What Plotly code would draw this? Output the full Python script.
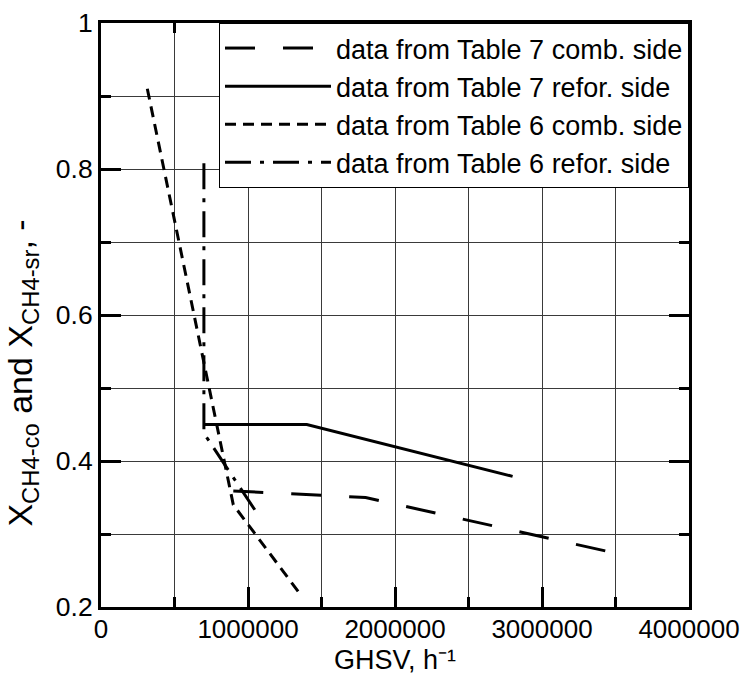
import plotly.graph_objects as go

# Data (GHSV in h^-1, conversion in -)
t7_comb_x = [900000, 1800000, 3450000]
t7_comb_y = [0.359, 0.350, 0.276]

t7_refor_x = [700000, 1400000, 2800000]
t7_refor_y = [0.450, 0.450, 0.379]

t6_comb_x = [315000, 900000, 1350000]
t6_comb_y = [0.910, 0.340, 0.219]

t6_refor_x = [700000, 700000, 1060000]
t6_refor_y = [0.808, 0.438, 0.329]

names = [
    "data from Table 7 comb. side",
    "data from Table 7 refor. side",
    "data from Table 6 comb. side",
    "data from Table 6 refor. side",
]

x_title = "GHSV, h\u207b\u00b9"
y_title = "X<sub>CH4-co</sub> and X<sub>CH4-sr</sub>, -"

FONT = "Liberation Sans, Arial, sans-serif"

fig = go.Figure()
series = [
    (t7_comb_x, t7_comb_y, "30px,28px"),
    (t7_refor_x, t7_refor_y, "solid"),
    (t6_comb_x, t6_comb_y, "11px,7px"),
    (t6_refor_x, t6_refor_y, "26px,9px,4px,9px"),
]
for (xs, ys, dash), nm in zip(series, names):
    fig.add_trace(go.Scatter(
        x=xs, y=ys, mode="lines", name=nm,
        line=dict(color="black", width=3, dash=dash),
    ))

axis_common = dict(
    showline=True, linecolor="black", linewidth=3, mirror="allticks",
    ticks="inside", ticklen=20, tickwidth=3, tickcolor="black",
    showgrid=True, gridcolor="#3a3a3a", gridwidth=1,
    zeroline=False, automargin=False, ticklabeloverflow="allow",
)

fig.update_xaxes(
    range=[0, 4000000], dtick=1000000, tick0=0, tickformat="d",
    tickfont=dict(family=FONT, size=26, color="black"),
    ticklabelstandoff=-3,
    minor=dict(dtick=500000, ticks="inside", ticklen=10, tickwidth=3,
               tickcolor="black", showgrid=True, gridcolor="#3a3a3a", gridwidth=1),
    **axis_common,
)
fig.update_yaxes(
    range=[0.2, 1.0], dtick=0.2, tick0=0.2,
    tickfont=dict(family=FONT, size=26.5, color="black"),
    minor=dict(dtick=0.1, ticks="inside", ticklen=10, tickwidth=3,
               tickcolor="black", showgrid=True, gridcolor="#3a3a3a", gridwidth=1),
    **axis_common,
)

fig.add_annotation(
    text=x_title, showarrow=False,
    xref="paper", yref="paper", x=0.5, y=-0.0908,
    xanchor="center", yanchor="middle",
    font=dict(family=FONT, size=27, color="black"),
)
fig.add_annotation(
    text=y_title, textangle=-90, showarrow=False,
    xref="paper", yref="paper", x=-0.134, y=0.40,
    xanchor="center", yanchor="middle",
    font=dict(family=FONT, size=34, color="black"),
)

fig.update_layout(
    width=741, height=677,
    margin=dict(l=101, r=52, t=23, b=70),
    paper_bgcolor="white", plot_bgcolor="white",
    showlegend=True,
    legend=dict(
        x=1, y=1, xanchor="right", yanchor="top",
        bgcolor="white", bordercolor="black", borderwidth=1,
        font=dict(family=FONT, size=27, color="black"),
        itemwidth=106, tracegroupgap=0,
    ),
)

fig.write_html("out.html")
